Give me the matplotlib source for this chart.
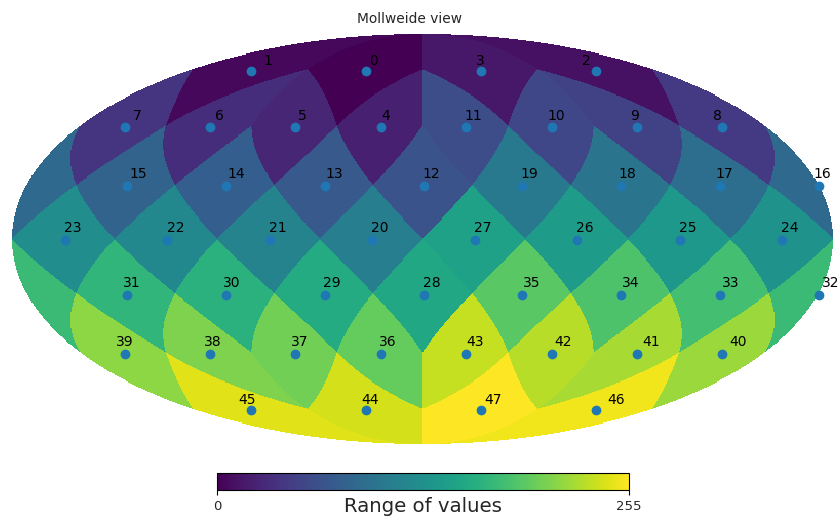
import numpy as np
import matplotlib
matplotlib.use("Agg")
import matplotlib.pyplot as plt
from matplotlib.transforms import ScaledTranslation

NSIDE = 2
pixel_ids = list(range(48))
pixel_values = [0, 5, 11, 16, 22, 27, 33, 38, 43, 49, 54, 60,
                65, 71, 76, 81, 87, 92, 98, 103, 109, 114, 119, 125,
                130, 136, 141, 146, 152, 157, 163, 168, 174, 179, 184, 190,
                195, 201, 206, 212, 217, 222, 228, 233, 239, 244, 250, 255]
vmin, vmax = 0, 255
title = "Mollweide view"
bar_label = "Range of values"

W, H = 838, 516
CX, CY, SX, SY = 422.0, 239.4, 205.0, 204.7


def ang2pix(z, phi):
    tt = np.mod(phi, 2 * np.pi) / (np.pi / 2)
    za = np.abs(z)
    pix = np.zeros(z.shape, dtype=int)
    eq = za <= 2 / 3
    t1 = NSIDE * (0.5 + tt[eq])
    t2 = NSIDE * z[eq] * 0.75
    jp = np.floor(t1 - t2).astype(int)
    jm = np.floor(t1 + t2).astype(int)
    ir = NSIDE + 1 + jp - jm
    ks = 1 - (ir & 1)
    ip = (jp + jm - NSIDE + ks + 1) // 2
    ip = np.mod(ip, 4 * NSIDE)
    pix[eq] = 2 * NSIDE * (NSIDE - 1) + (ir - 1) * 4 * NSIDE + ip
    cap = ~eq
    tc = tt[cap]
    tp = tc - np.floor(tc)
    tmp = NSIDE * np.sqrt(3 * (1 - za[cap]))
    jp = np.floor(tp * tmp).astype(int)
    jm = np.floor((1 - tp) * tmp).astype(int)
    ir = jp + jm + 1
    ip = np.mod(np.floor(tc * ir).astype(int), 4 * ir)
    north = 2 * ir * (ir - 1) + ip
    south = 12 * NSIDE ** 2 - 2 * ir * (ir + 1) + ip
    pix[cap] = np.where(z[cap] > 0, north, south)
    return pix


def pix2ang(p):
    npix = 12 * NSIDE ** 2
    ncap = 2 * NSIDE * (NSIDE - 1)
    if p < ncap:
        i = int((1 + np.sqrt(1 + 2 * p)) / 2)
        j = p + 1 - 2 * i * (i - 1)
        return 1 - i * i / (3 * NSIDE ** 2), (j - 0.5) * np.pi / (2 * i)
    if p < npix - ncap:
        k = p - ncap
        i = k // (4 * NSIDE) + NSIDE
        j = k % (4 * NSIDE) + 1
        f = 1.0 if (i + NSIDE) & 1 else 0.5
        return 4 / 3 - 2 * i / (3 * NSIDE), (j - f) * np.pi / (2 * NSIDE)
    k = npix - p
    i = int((1 + np.sqrt(2 * k - 1)) / 2)
    j = 4 * i + 1 - (k - 2 * i * (i - 1))
    return -1 + i * i / (3 * NSIDE ** 2), (j - 0.5) * np.pi / (2 * i)


def moll(lat, phi):
    phi = (phi + np.pi) % (2 * np.pi) - np.pi
    t = lat
    target = np.pi * np.sin(lat)
    for _ in range(60):
        t = t - (2 * t + np.sin(2 * t) - target) / (2 + 2 * np.cos(2 * t) + 1e-12)
    return -2 / np.pi * phi * np.cos(t), np.sin(t)


fig = plt.figure(figsize=(W / 100, H / 100), dpi=100)
ax = fig.add_axes([0, 0, 1, 1])
ax.set_axis_off()
ax.set_xlim(-CX / SX, (W - CX) / SX)
ax.set_ylim(-(H - CY) / SY, CY / SY)

# Mollweide raster on a regular grid
xs = np.linspace(-2, 2, 800, endpoint=False) + 0.0025
ys = np.linspace(-1, 1, 400, endpoint=False) + 0.0025
gx, gy = np.meshgrid(xs, ys)
inside = gx ** 2 / 4 + gy ** 2 < 1
t = np.arcsin(np.clip(gy, -1, 1))
z = np.clip((2 * t + np.sin(2 * t)) / np.pi, -1, 1)
phi = -np.pi * gx / (2 * np.cos(t))
pm = ang2pix(z, phi)
img = np.ma.masked_where(~inside, np.array(pixel_values, float)[pm])
im = ax.imshow(img, origin="lower", extent=(-2, 2, -1, 1), cmap="viridis",
               vmin=vmin, vmax=vmax, interpolation="nearest", aspect="auto", zorder=1)

dot_shift = ScaledTranslation(1.5 / 100, -1 / 100, fig.dpi_scale_trans)
text_shift = ScaledTranslation(0.7 / 100, -1 / 100, fig.dpi_scale_trans)
for pid in pixel_ids:
    zp, ph = pix2ang(pid)
    lat = np.arcsin(zp)
    x, y = moll(lat, ph)
    ax.scatter([x], [y], s=36, color="#1f77b4", zorder=3, clip_on=False,
               transform=ax.transData + dot_shift)
    lx, ly = moll(lat + 0.05, ph)
    ax.text(lx, ly, str(pid), fontsize=10, color="black", zorder=4,
            ha="left", va="baseline", transform=ax.transData + text_shift)

fig.text(409.5 / W, 1 - 19 / H, title, ha="center", va="center", fontsize=9.9, color="#262626")

cax = fig.add_axes([217 / W, 1 - 490 / H, 412 / W, 17 / H])
cb = fig.colorbar(im, cax=cax, orientation="horizontal")
cb.set_ticks([vmin, vmax])
cb.set_ticklabels([str(vmin), str(vmax)])
cax.tick_params(labelsize=9.5, length=3.5, width=0.8, pad=4, labelcolor="#262626")
fig.text(423 / W, 1 - 506 / H, bar_label, ha="center", va="center", fontsize=14.2, color="#262626")

fig.savefig("out.png", dpi=100)
